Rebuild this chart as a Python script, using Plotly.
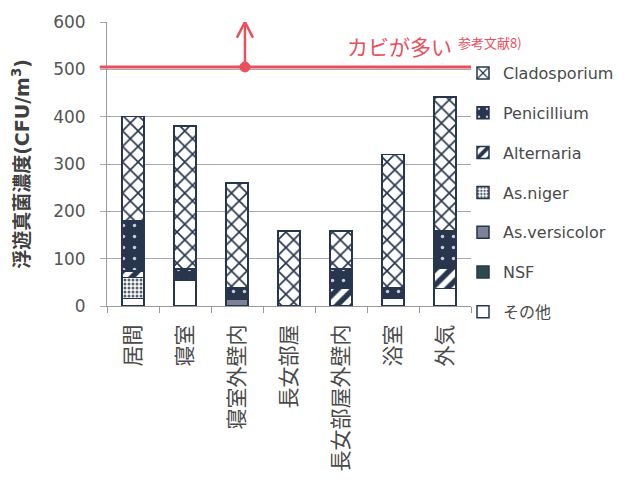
import plotly.graph_objects as go

# Sampling locations
categories = ["居間", "寝室", "寝室外壁内", "長女部屋", "長女部屋外壁内", "浴室", "外気"]

# Airborne fungal concentration by genus (CFU/m3), stacked bottom to top
sonota = [16, 55, 0, 0, 0, 16, 37]
nsf = [0, 0, 0, 0, 0, 0, 0]
as_versicolor = [0, 0, 14, 0, 0, 0, 0]
as_niger = [44, 0, 0, 0, 0, 0, 0]
alternaria = [14, 0, 0, 0, 37, 0, 43]
penicillium = [107, 23, 24, 0, 41, 23, 78]
cladosporium = [219, 302, 222, 158, 80, 281, 284]

# Guideline level for "many fungi"
threshold = 505
y_ticks = [0, 100, 200, 300, 400, 500, 600]

NAVY = "#27354d"
RED = "#e8505c"
GRAY_TXT = "#4a4a4a"

series = [
    ("その他", sonota, dict(color="white")),
    ("NSF", nsf, dict(color="#2f4a4c")),
    ("As.versicolor", as_versicolor, dict(color="#7d8296")),
    ("As.niger", as_niger, dict(color="white",
        pattern=dict(shape=".", fgcolor="#56606e", bgcolor="white",
                     size=4, solidity=0.45, fillmode="replace"))),
    ("Alternaria", alternaria, dict(color="white",
        pattern=dict(shape="/", fgcolor=NAVY, bgcolor="white",
                     size=11, solidity=0.5, fillmode="replace"))),
    ("Penicillium", penicillium, dict(color=NAVY,
        pattern=dict(shape=".", fgcolor="#c8ccd6", bgcolor=NAVY,
                     size=11, solidity=0.08, fillmode="replace"))),
    ("Cladosporium", cladosporium, dict(color="white",
        pattern=dict(shape="x", fgcolor=NAVY, bgcolor="white",
                     size=11, solidity=0.28, fillmode="replace"))),
]

fig = go.Figure()
n = len(series)
for i, (name, vals, marker) in enumerate(series):
    fig.add_trace(go.Bar(
        x=categories,
        y=[v if v else None for v in vals],
        name=name,
        legendgroup=name,
        legendrank=n - i,
        marker=dict(line=dict(color=NAVY, width=1.5), **marker),
    ))

# Threshold line with marker dot and upward arrow
arrow_x = 0.379
fig.add_shape(type="line", xref="paper", yref="y", x0=-0.02, x1=1.0,
              y0=threshold, y1=threshold, line=dict(color=RED, width=3))
fig.add_shape(type="line", xref="paper", yref="y", x0=arrow_x, x1=arrow_x,
              y0=threshold, y1=600, line=dict(color=RED, width=2.5))
fig.add_shape(type="path", xref="paper", yref="y",
              path=f"M {arrow_x-0.022},567 L {arrow_x},600 L {arrow_x+0.022},567",
              line=dict(color=RED, width=2.5))
fig.add_shape(type="circle", xref="paper", yref="y",
              xsizemode="pixel", ysizemode="pixel",
              xanchor=arrow_x, yanchor=threshold,
              x0=-5, x1=5, y0=-5, y1=5,
              fillcolor=RED, line=dict(color=RED, width=1))

fig.add_annotation(xref="paper", yref="y", x=0.655, y=550,
                   text="カビが多い", showarrow=False, xanchor="left",
                   font=dict(size=21, color=RED,
                             family="Noto Sans CJK JP"))
fig.add_annotation(xref="paper", yref="y", x=0.958, y=557,
                   text="参考文献8)", showarrow=False, xanchor="left",
                   font=dict(size=13, color=RED,
                             family="Noto Sans CJK JP"))

fig.update_layout(
    width=631, height=485,
    margin=dict(l=107, r=155, t=14, b=179),
    barmode="stack",
    bargap=0.58,
    paper_bgcolor="white",
    plot_bgcolor="white",
    font=dict(family="DejaVu Sans, Noto Sans CJK JP", color=GRAY_TXT),
    legend=dict(
        x=0.978, xanchor="left", y=0.88, yanchor="top",
        traceorder="grouped", tracegroupgap=16,
        maxheight=420,
        font=dict(size=16, color=GRAY_TXT,
                  family="DejaVu Sans, Noto Sans CJK JP"),
        bgcolor="rgba(0,0,0,0)",
    ),
    xaxis=dict(
        type="category",
        tickangle=-90,
        tickfont=dict(size=21, color=GRAY_TXT,
                      family="Noto Sans CJK JP"),
        ticklabelstandoff=9,
        showline=True, linecolor="#9a9a9a", linewidth=1,
        ticks="outside", tickson="boundaries", ticklen=6,
        tickcolor="#9a9a9a",
    ),
    yaxis=dict(
        range=[0, 600], tickvals=y_ticks,
        tickfont=dict(size=17, color="#555555", family="DejaVu Sans"),
        ticklabelstandoff=11,
        showgrid=True, gridcolor="#a8a8a8", gridwidth=1,
        showline=True, linecolor="#9a9a9a", linewidth=1,
        ticks="outside", ticklen=6, tickcolor="#a8a8a8",
        zeroline=False,
        title=dict(text="<b>浮遊真菌濃度(CFU/m<sup>3</sup>)</b>",
                   font=dict(size=19, color="#404040",
                             family="DejaVu Sans, Noto Sans CJK JP"),
                   standoff=18),
    ),
)

fig.write_html("out.html")
